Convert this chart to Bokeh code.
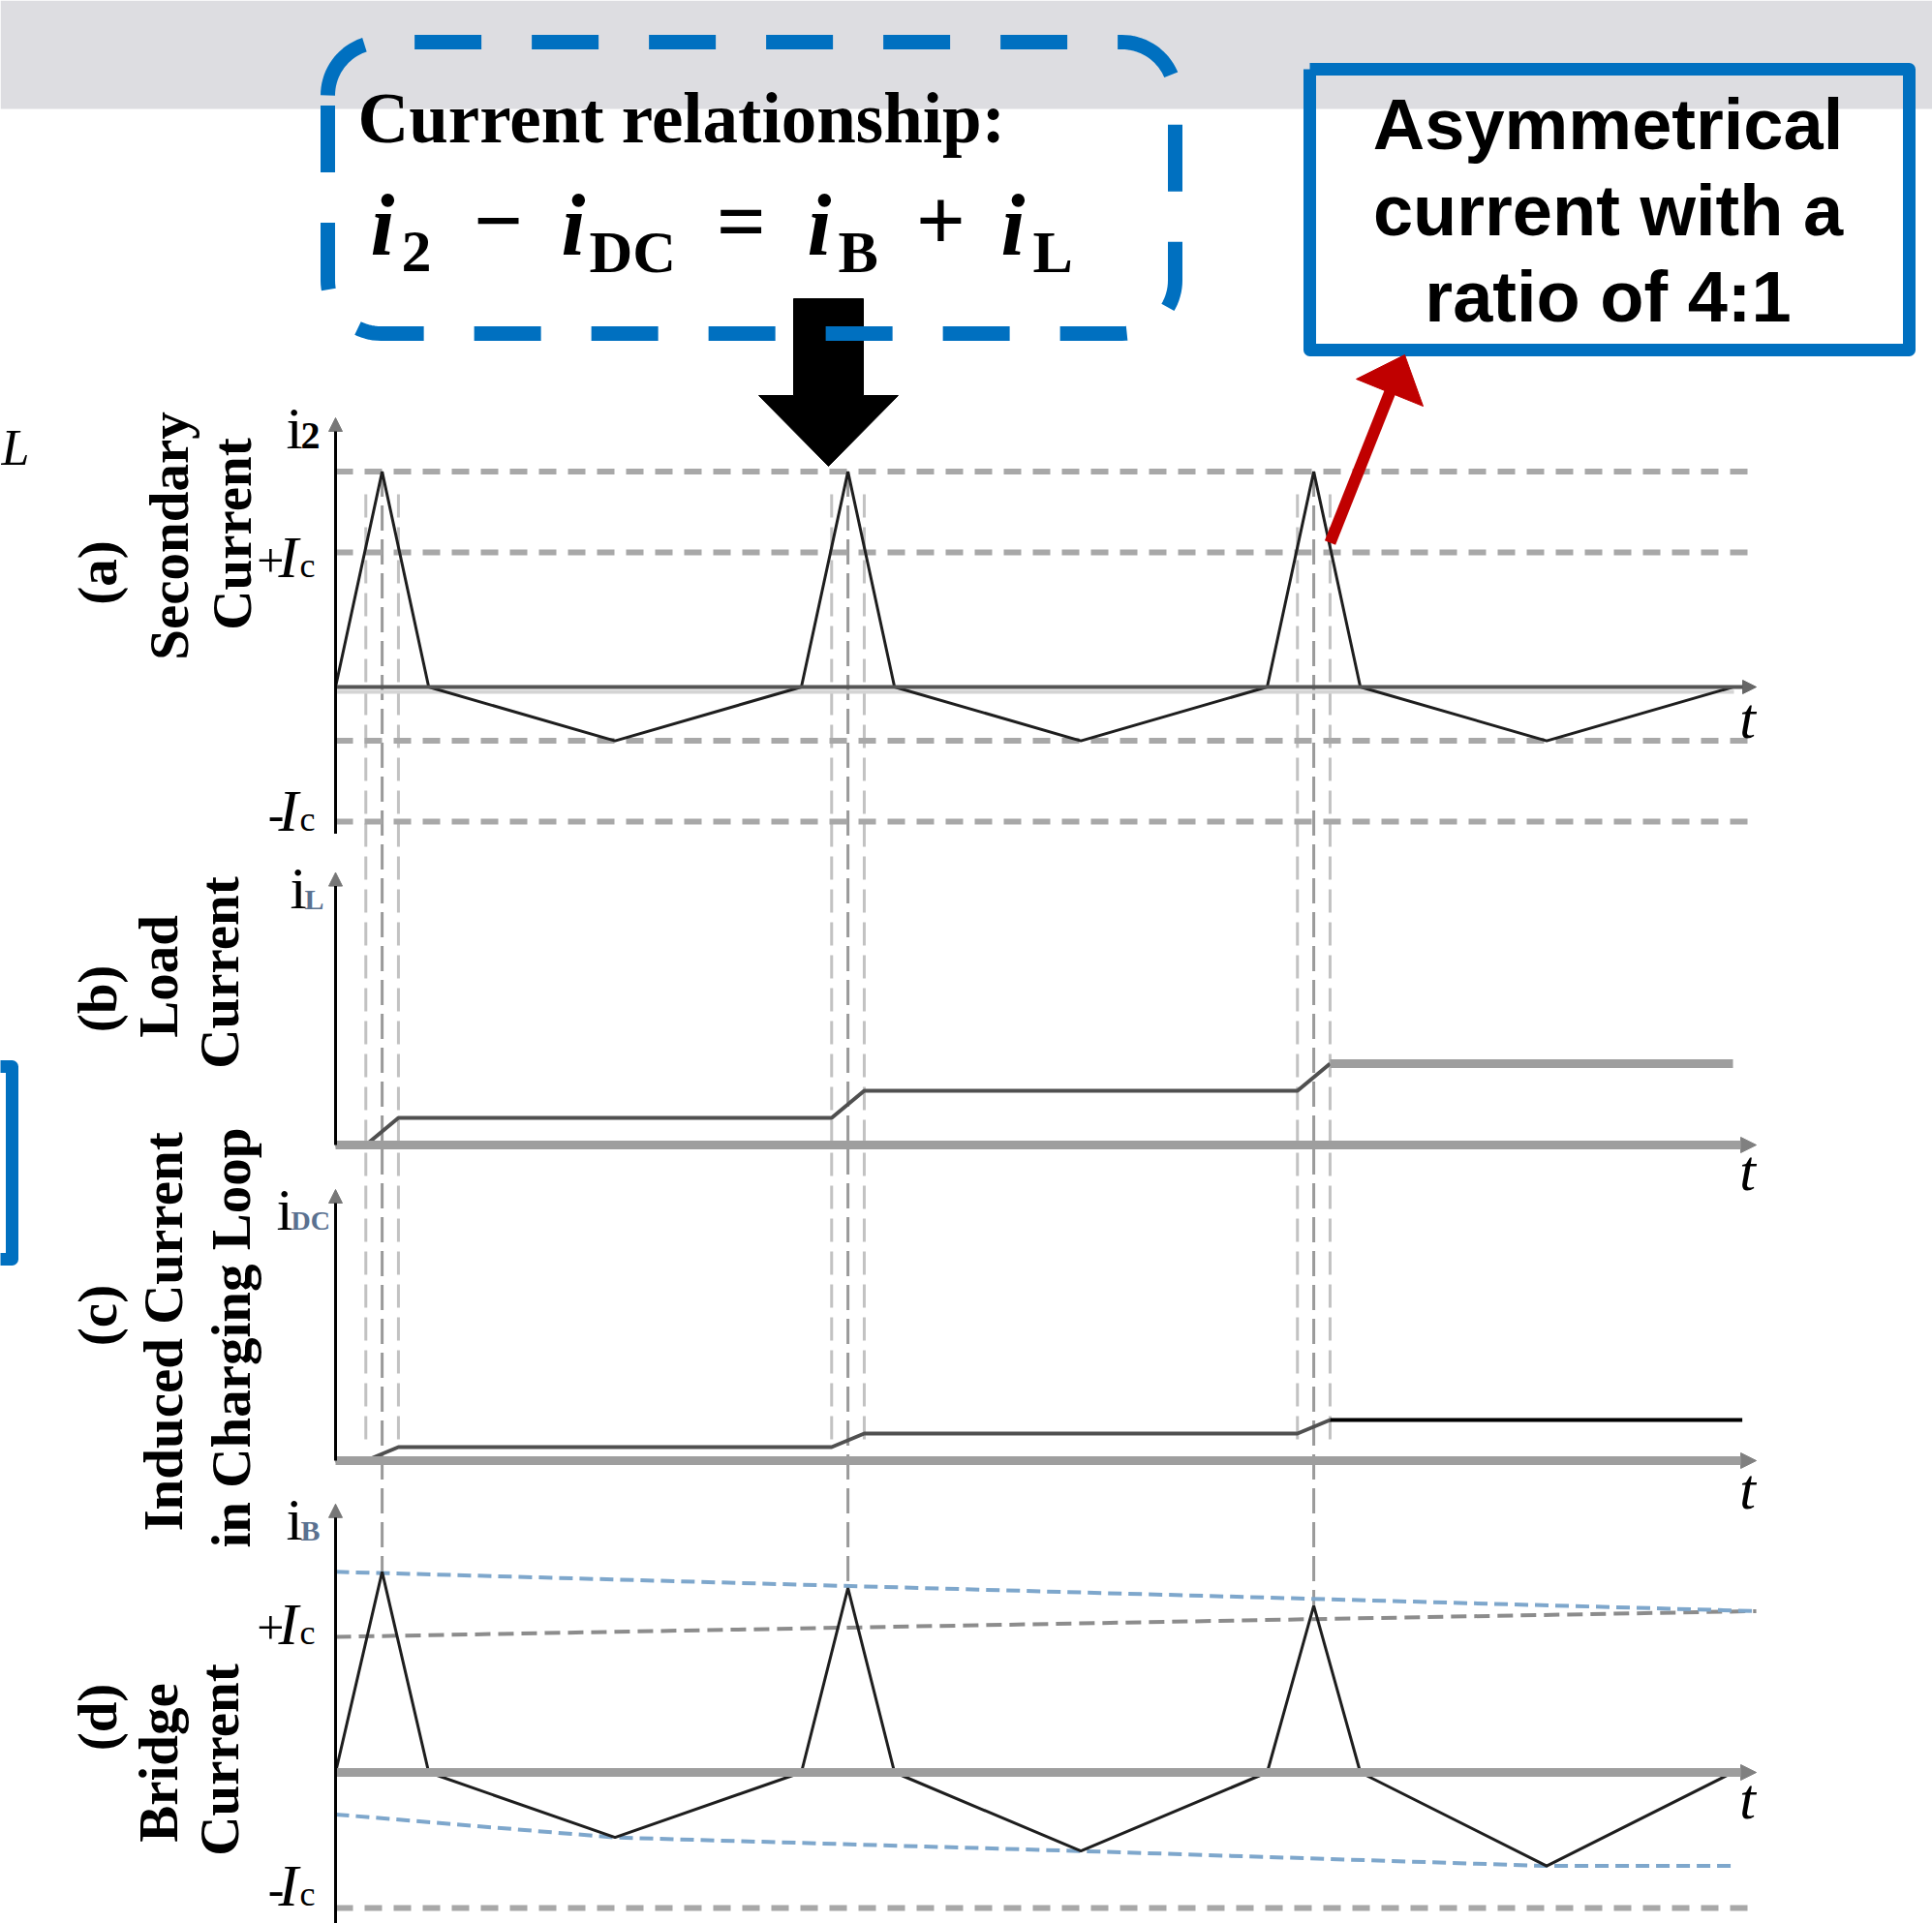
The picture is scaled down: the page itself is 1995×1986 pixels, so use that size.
import numpy as np
from bokeh.plotting import figure
from bokeh.models import Range1d, Arrow, NormalHead
from bokeh.core.properties import value
from bokeh.embed import file_html
from bokeh.resources import INLINE

# ---------------- data (time in switching periods, currents in Ic units) ----------------
t_wave = [0.0, 0.1, 0.2, 0.6, 1.0, 1.1, 1.2, 1.6, 2.0, 2.1, 2.2, 2.6, 3.0]
i2_vals = [0.0, 1.6, 0.0, -0.4, 0.0, 1.6, 0.0, -0.4, 0.0, 1.6, 0.0, -0.4, 0.0]
i2_guides = [1.6, 1.0, -0.4, -1.0]

t_load = [0.0, 0.065, 0.135, 1.065, 1.135, 2.065, 2.135, 3.0]
iL_vals = [0.0, 0.0, 1.0, 1.0, 2.0, 2.0, 3.0, 3.0]

t_dc = [0.0, 0.065, 0.135, 1.065, 1.135, 2.065, 2.135, 3.02]
iDC_vals = [0.0, 0.0, 0.5, 0.5, 1.0, 1.0, 1.5, 1.5]

iB_vals = [0.0, 1.48, 0.0, -0.48, 0.0, 1.36, 0.0, -0.58, 0.0, 1.23, 0.0, -0.69, 0.0]
iB_hi_t = [0.0, 3.05]
iB_hi = [1.48, 1.19]
iB_lo_t = [0.0, 0.6, 1.6, 2.6, 3.0]
iB_lo = [-0.31, -0.48, -0.58, -0.69, -0.69]
iB_pic_t = [0.0, 3.05]
iB_pic = [1.0, 1.19]
iB_nic = -1.0

peak_t = [0.1, 1.1, 2.1]
cross_dt = 0.035
t_end = 3.05

panel_tags = ["(a)", "(b)", "(c)", "(d)"]
panel_line1 = ["Secondary", "Load", "Induced Current", "Bridge"]
panel_line2 = ["Current", "Current", "in Charging Loop", "Current"]
y_subs = ["2", "L", "DC", "B"]
note_lines = ["Asymmetrical", "current with a", "ratio of 4:1"]
relation_title = "Current relationship:"

# ---------------- layout ----------------
W, H = 1995, 1986
X0, PXT = 346, 481
panels = {"a": (709, 139.0), "b": (1182, 28.0), "c": (1508, 28.0), "d": (1830, 140.0)}
axis_ext = {"a": (-1.09, 2.0), "b": (0.0, 10.05), "c": (0.0, 10.0), "d": (-1.12, 1.98)}
BASE_K = 0.35  # renderer places alphabetic baseline ~0.35em low; compensate


def py(k, v):
    y0, s = panels[k]
    return y0 - v * s


p = figure(width=W, height=H, output_backend="svg", toolbar_location=None,
           x_range=Range1d(0, W), y_range=Range1d(H, 0),
           x_axis_location=None, y_axis_location=None, min_border=0)
p.min_border_left = p.min_border_right = p.min_border_top = p.min_border_bottom = 0
p.grid.visible = False
p.outline_line_color = None
p.background_fill_color = "white"
p.border_fill_color = "white"
p.extra_x_ranges["t"] = Range1d(-X0 / PXT, (W - X0) / PXT)
for k, (y0, s) in panels.items():
    p.extra_y_ranges[k] = Range1d((y0 - H) / s, y0 / s)

SERIF = value("Liberation Serif")
SANS = value("Liberation Sans")
GUIDE = "#a8a8a8"


def txt(xs, ys, texts, size, font=SERIF, style="normal", align="left", color="black", rotated=False):
    corr = BASE_K * size
    if rotated:
        xs = [x - corr for x in xs]
    else:
        ys = [y - corr for y in ys]
    p.text(x=xs, y=ys, text=texts, text_font=font, text_font_size=f"{size}px", text_font_style=style,
           text_align=("center" if rotated else align), text_baseline="alphabetic", text_color=color,
           angle=(np.pi / 2 if rotated else 0))


# gray band at top
p.quad(left=[0], right=[W], top=[0], bottom=[112], fill_color="#DDDDE1", line_color=None)

# ---------------- vertical dashed guides ----------------
for j, tp in enumerate(peak_t):
    for side in (-cross_dt, cross_dt):
        p.segment(x0=[tp + side], x1=[tp + side], y0=[510], y1=[1486], x_range_name="t",
                  line_color="#c2c2c2", line_width=3, line_dash="24 10")
    yb = py("d", iB_vals[1 + 4 * j])
    p.segment(x0=[tp], x1=[tp], y0=[py("a", max(i2_vals))], y1=[yb], x_range_name="t",
              line_color="#9a9a9a", line_width=3, line_dash="26 9")

# ---------------- panel (a) ----------------
for g in i2_guides:
    p.line([0, t_end], [g, g], x_range_name="t", y_range_name="a",
           line_color=GUIDE, line_width=6, line_dash="18 12")
p.segment(x0=[X0], x1=[1790], y0=[py("a", 0) + 5], y1=[py("a", 0) + 5], line_color="#d4d4d4", line_width=4)
p.add_layout(Arrow(x_start=0, y_start=0, x_end=t_end, y_end=0, x_range_name="t", y_range_name="a",
                   line_color="#555555", line_width=4,
                   end=NormalHead(size=14, fill_color="#666666", line_color="#666666", line_width=1)))
p.line(t_wave, i2_vals, x_range_name="t", y_range_name="a", line_color="#1e1e1e", line_width=3)

# ---------------- panel (b) ----------------
p.add_layout(Arrow(x_start=0, y_start=0, x_end=t_end, y_end=0, x_range_name="t", y_range_name="b",
                   line_color="#9e9e9e", line_width=9,
                   end=NormalHead(size=16, fill_color="#808080", line_color="#808080", line_width=1)))
p.line(t_load[:-1], iL_vals[:-1], x_range_name="t", y_range_name="b", line_color="#505050", line_width=4)
p.line(t_load[-2:], iL_vals[-2:], x_range_name="t", y_range_name="b", line_color="#9e9e9e", line_width=9)

# ---------------- panel (c) ----------------
p.add_layout(Arrow(x_start=0, y_start=0, x_end=t_end, y_end=0, x_range_name="t", y_range_name="c",
                   line_color="#9e9e9e", line_width=9,
                   end=NormalHead(size=16, fill_color="#808080", line_color="#808080", line_width=1)))
p.line(t_dc[:-1], iDC_vals[:-1], x_range_name="t", y_range_name="c", line_color="#505050", line_width=4)
p.line(t_dc[-2:], iDC_vals[-2:], x_range_name="t", y_range_name="c", line_color="#000000", line_width=4)

# ---------------- panel (d) ----------------
p.line([0, t_end], [iB_nic, iB_nic], x_range_name="t", y_range_name="d",
       line_color=GUIDE, line_width=6, line_dash="18 12")
p.line(iB_pic_t, iB_pic, x_range_name="t", y_range_name="d",
       line_color="#8c8c8c", line_width=4, line_dash="16 8")
p.line(iB_hi_t, iB_hi, x_range_name="t", y_range_name="d",
       line_color="#7ea7cc", line_width=4, line_dash="14 7")
p.line(iB_lo_t, iB_lo, x_range_name="t", y_range_name="d",
       line_color="#7ea7cc", line_width=4, line_dash="14 7")
p.add_layout(Arrow(x_start=0, y_start=0, x_end=t_end, y_end=0, x_range_name="t", y_range_name="d",
                   line_color="#9e9e9e", line_width=9,
                   end=NormalHead(size=16, fill_color="#808080", line_color="#808080", line_width=1)))
p.line(t_wave, iB_vals, x_range_name="t", y_range_name="d", line_color="#1e1e1e", line_width=3)

# ---------------- y axes ----------------
for k in "abcd":
    lo, hi = axis_ext[k]
    p.add_layout(Arrow(x_start=0, y_start=lo, x_end=0, y_end=hi, x_range_name="t", y_range_name=k,
                       line_color="black", line_width=3,
                       end=NormalHead(size=14, fill_color="#777777", line_color="#777777", line_width=1)))

# ---------------- axis labels ----------------
lab_base = [463, 938, 1270, 1590]
lab_ix = [295, 299, 285, 295]
sub_sz = [40, 30, 28, 30]
sub_col = ["black", "#5a7190", "#5a7190", "#5a7190"]
for i in range(4):
    txt([lab_ix[i]], [lab_base[i]], ["i"], 62)
    txt([lab_ix[i] + 15], [lab_base[i]], [y_subs[i]], sub_sz[i], style="bold", color=sub_col[i])

ic_base = [596, 858, 1698, 1968]
ic_sign = ["+", "-", "+", "-"]
for yb, sg in zip(ic_base, ic_sign):
    txt([293], [yb], [sg], 50, align="right")
    txt([287], [yb], ["I"], 62, style="italic")
    txt([309], [yb], ["c"], 36)

t_base = [762, 1229, 1558, 1878]
txt([1804] * 4, t_base, ["t"] * 4, 60, style="italic", align="center")

# ---------------- panel titles (rotated) ----------------
tag_y = [591, 1031, 1358, 1773]
l1_x = [194, 183, 188, 183]
l1_y = [553, 1008, 1375, 1820]
l2_x = [259, 246, 258, 246]
l2_y = [551, 1004, 1381, 1817]
txt([120] * 4, tag_y, panel_tags, 57, style="bold", rotated=True)
txt(l1_x, l1_y, panel_line1, 57, style="bold", rotated=True)
txt(l2_x, l2_y, panel_line2, 57, style="bold", rotated=True)

# ---------------- top annotations ----------------
# black down arrow
p.patch(x=[819, 891, 891, 927, 855, 783, 819], y=[308, 308, 408, 408, 481, 408, 408],
        fill_color="black", line_color="black", line_width=1)


def rounded_path(x0, y0, x1, y1, r):
    xs, ys = [], []

    def arc(cx, cy, a0, a1):
        a = np.linspace(a0, a1, 24)
        xs.extend(cx + r * np.cos(a))
        ys.extend(cy + r * np.sin(a))
    arc(x0 + r, y0 + r, np.pi, 1.5 * np.pi)
    arc(x1 - r, y0 + r, 1.5 * np.pi, 2 * np.pi)
    arc(x1 - r, y1 - r, 0, 0.5 * np.pi)
    arc(x0 + r, y1 - r, 0.5 * np.pi, np.pi)
    xs.append(xs[0])
    ys.append(ys[0])
    return xs, ys


bx, by = rounded_path(338, 43, 1213, 344, 55)
p.line(bx, by, line_color="#0070C0", line_width=15, line_dash="69 52")

txt([369], [148], [relation_title], 73, style="bold")

# equation i2 - iDC = iB + iL
eq_i_x = [382, 579, 833, 1033]
eq_sub_x = [414, 608, 865, 1066]
eq_subs = ["2", "DC", "B", "L"]
txt(eq_i_x, [263] * 4, ["i"] * 4, 90, style="bold italic")
txt(eq_sub_x, [281] * 4, eq_subs, 62, style="bold")
txt([514, 765, 971], [259] * 3, ["\u2212", "=", "+"], 90, style="bold", align="center")

# right note box
p.line([1352, 1971, 1971, 1352, 1352], [71, 71, 361, 361, 71], line_color="#0070C0", line_width=13,
       line_join="round")
txt([1660] * 3, [154, 243, 332], note_lines, 74, font=SANS, style="bold", align="center")

# red arrow
p.line([1373, 1435], [560, 404], line_color="#C00000", line_width=12)
p.patch(x=[1450, 1469, 1400], y=[366, 419, 391], fill_color="#C00000", line_color="#C00000")

# left-edge fragments
txt([1], [480], ["L"], 52, style="italic", align="left")
p.line([-5, 12, 12, -5], [1101, 1101, 1300, 1300], line_color="#0070C0", line_width=13, line_join="round")

open("out.html", "w").write(file_html(p, INLINE))
